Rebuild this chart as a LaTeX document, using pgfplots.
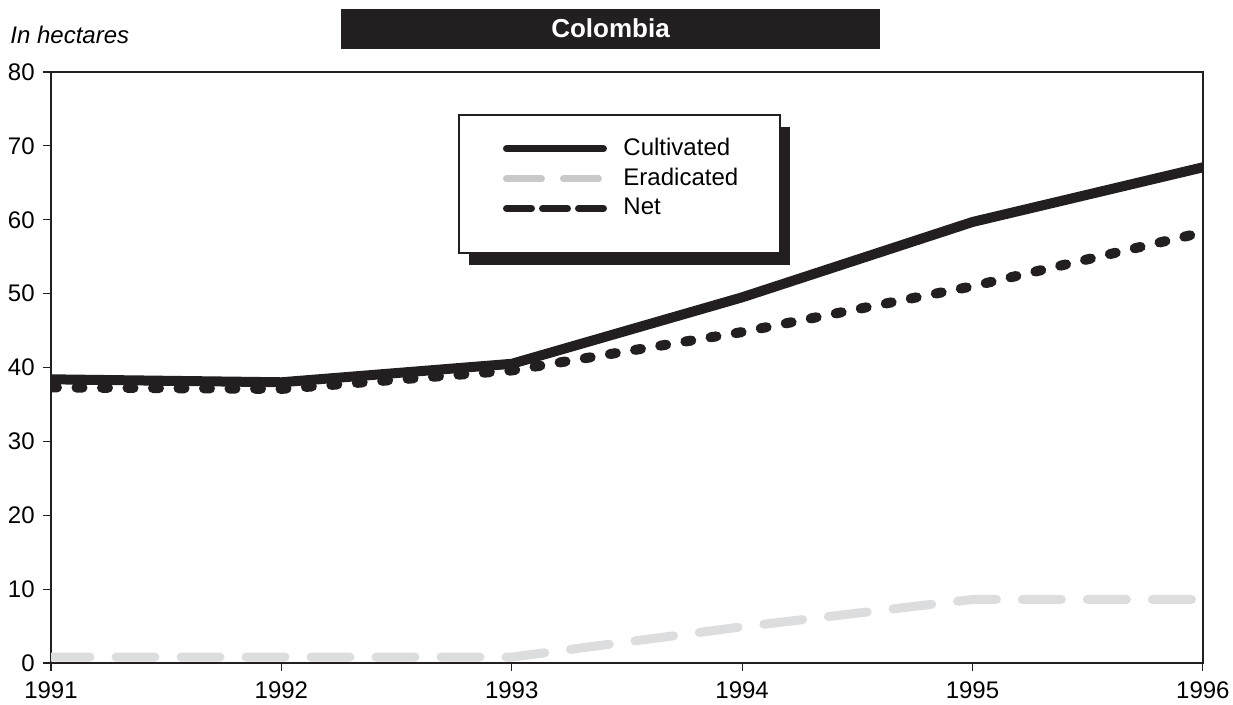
\documentclass[border=0pt]{standalone}
\usepackage{pgfplots}
\pgfplotsset{compat=1.18}
\usepackage{fontspec}
\setmainfont{Liberation Sans}
\definecolor{ink}{HTML}{231F20}
\definecolor{lgray}{HTML}{DCDDDF}
\definecolor{mgray}{HTML}{C8C9CB}
\begin{document}
\fontsize{12}{14}\selectfont
\begin{tikzpicture}
\path[use as bounding box] (-25.5pt,-21pt) rectangle (591pt,331.5pt);
% title bar and unit label
\fill[ink] (145pt,307pt) rectangle (414.5pt,327pt);
\node[text=white,font=\fontsize{13}{15}\selectfont\bfseries] at (279.75pt,317.5pt) {Colombia};
\node[anchor=base west,inner sep=0pt,font=\fontsize{12}{14}\selectfont\itshape] at (-20.5pt,309.5pt) {In hectares};
% legend box with shadow
\fill[ink] (209pt,199pt) rectangle (369.5pt,268pt);
\draw[ink,line width=0.8pt,fill=white] (204pt,205pt) rectangle (364.5pt,274pt);
\begin{axis}[
    at={(0,0)}, anchor=south west,
    scale only axis,
    width=576pt, height=295.5pt,
    xmin=1991, xmax=1996, ymin=0, ymax=80,
    xtick={1991,...,1996}, ytick={0,10,...,80},
    xticklabel style={/pgf/number format/1000 sep={}},
    /pgf/number format/assume math mode=true,
    tick align=outside, tick pos=left,
    major tick length=4pt,
    axis line style={ink,line width=1pt},
    tick style={ink,line width=0.6pt},
    ticklabel style={font=\fontsize{12}{14}\selectfont},
    xticklabel style={yshift=-1pt},
    legend cell align=left,
    legend style={draw=none,fill=none,at={(0.392,0.895)},anchor=north west,
        row sep=0.5pt,font=\fontsize{12}{14}\selectfont,inner sep=0pt},
]
\addplot[ink,line width=5pt,line cap=round,line join=round,
    legend image code/.code={\draw[ink,line width=3.5pt,line cap=round] (0pt,0pt) -- (48.5pt,0pt); \path (54pt,0pt);}]
    coordinates {
    (1991,38.4) (1992,38.0) (1993,40.5) (1994,49.5) (1995,59.7) (1996,67.1)};
\addlegendentry{Cultivated}
\addplot[lgray,line width=4.5pt,line cap=round,dash pattern=on 19.5pt off 13pt,
    legend image code/.code={\draw[mgray,line width=3.5pt,line cap=round,dash pattern=on 17.5pt off 11pt] (0pt,0pt) -- (48.5pt,0pt); \path (54pt,0pt);}]
    coordinates {
    (1991,0.8) (1992,0.8) (1993,0.8) (1994,4.9) (1995,8.6) (1996,8.6)};
\addlegendentry{Eradicated}
\addplot[ink,line width=5pt,line cap=round,dash pattern=on 3pt off 9.75pt,
    legend image code/.code={\draw[ink,line width=3.5pt,line cap=round,dash pattern=on 12.5pt off 5.5pt] (0pt,0pt) -- (48.5pt,0pt); \path (54pt,0pt);}]
    coordinates {
    (1991,37.3) (1992,37.1) (1993,39.6) (1994,44.8) (1995,51.0) (1996,58.3)};
\addlegendentry{Net}
\end{axis}
\end{tikzpicture}
\end{document}
